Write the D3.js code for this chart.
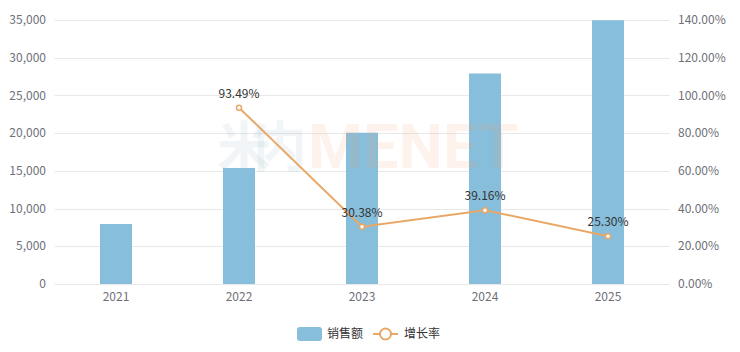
<!DOCTYPE html>
<html><head><meta charset="utf-8">
<script src="https://cdn.jsdelivr.net/npm/d3@7/dist/d3.min.js"></script>
<style>body{margin:0;background:#fff;}svg{display:block;font-family:"Microsoft YaHei","Noto Sans CJK SC",sans-serif;}</style>
</head><body>
<svg id="c" width="740" height="352"></svg>
<script>
const categories = ["2021","2022","2023","2024","2025"];
const sales = [7950, 15382, 20055, 27909, 34970];
const growth = [null, 93.49, 30.38, 39.16, 25.30];
const leftTicks = [0,5000,10000,15000,20000,25000,30000,35000];
const rightTicks = [0,20,40,60,80,100,120,140];
const legendNames = ["销售额","增长率"];

const svg = d3.select("#c");
const L = 54.5, R = 669.5, T = 20, B = 284;
const x = d3.scaleBand().domain(categories).range([L, R]);
const yL = d3.scaleLinear().domain([0, 35000]).range([B, T]);
const yR = d3.scaleLinear().domain([0, 140]).range([B, T]);

// grid
svg.append("g").selectAll("line").data(leftTicks).join("line")
  .attr("x1", L).attr("x2", R)
  .attr("y1", d => Math.round(yL(d)) + 0.5).attr("y2", d => Math.round(yL(d)) + 0.5)
  .attr("stroke", "#e8e8e8").attr("stroke-width", 1);

// left axis labels
svg.append("g").selectAll("text").data(leftTicks).join("text")
  .attr("x", 46).attr("y", d => yL(d)).attr("dy", "0.35em")
  .attr("text-anchor", "end").attr("font-size", 12).attr("fill", "#6e7079")
  .text(d => d3.format(",")(d));

// right axis labels
svg.append("g").selectAll("text").data(rightTicks).join("text")
  .attr("x", 678).attr("y", d => yR(d)).attr("dy", "0.35em")
  .attr("text-anchor", "start").attr("font-size", 12).attr("fill", "#6e7079")
  .text(d => d.toFixed(2) + "%");

// x labels
svg.append("g").selectAll("text").data(categories).join("text")
  .attr("x", d => x(d) + x.bandwidth()/2).attr("y", 297).attr("dy", "0.35em")
  .attr("text-anchor", "middle").attr("font-size", 12).attr("fill", "#6e7079")
  .text(d => d);

// bars
const bw = 32;
svg.append("g").selectAll("rect").data(sales).join("rect")
  .attr("x", (d,i) => x(categories[i]) + x.bandwidth()/2 - bw/2)
  .attr("width", bw)
  .attr("y", d => yL(d)).attr("height", d => B - yL(d))
  .attr("fill", "#86bedb");

// watermark
const wm = svg.append("g");
wm.append("text").attr("x", 217).attr("y", 167).attr("font-size", 54).attr("font-weight", "bold")
  .attr("fill", "#a9bfcb").attr("fill-opacity", 0.16).attr("font-family","Noto Sans CJK SC").attr("textLength", 90).text("米内");
wm.append("text").attr("x", 308).attr("y", 168).attr("font-size", 62).attr("font-weight", "bold")
  .attr("fill", "#f4a46a").attr("fill-opacity", 0.13).attr("font-family","Roboto, sans-serif").attr("textLength", 210).attr("lengthAdjust","spacingAndGlyphs").text("MENET");

// line
const pts = growth.map((g,i) => ({g, c: categories[i]})).filter(d => d.g !== null);
const line = d3.line().x(d => x(d.c) + x.bandwidth()/2).y(d => yR(d.g));
svg.append("path").datum(pts).attr("d", line)
  .attr("fill", "none").attr("stroke", "#e9a867").attr("stroke-width", 2);
svg.append("g").selectAll("circle").data(pts).join("circle")
  .attr("cx", d => x(d.c) + x.bandwidth()/2).attr("cy", d => yR(d.g)).attr("r", 2.5)
  .attr("fill", "#fff").attr("stroke", "#e9a867").attr("stroke-width", 1.5);
svg.append("g").selectAll("text").data(pts).join("text")
  .attr("x", d => x(d.c) + x.bandwidth()/2).attr("y", d => yR(d.g) - 10)
  .attr("text-anchor", "middle").attr("font-size", 12).attr("fill", "#333")
  .text(d => d.g.toFixed(2) + "%");

// legend
const lg = svg.append("g");
lg.append("rect").attr("x", 297).attr("y", 327).attr("width", 25).attr("height", 14).attr("rx", 3).attr("fill", "#86bedb");
lg.append("text").attr("x", 327).attr("y", 334).attr("dy", "0.35em").attr("font-size", 12).attr("fill", "#333").text(legendNames[0]);
lg.append("line").attr("x1", 373).attr("x2", 398).attr("y1", 334).attr("y2", 334).attr("stroke", "#e9a867").attr("stroke-width", 2);
lg.append("circle").attr("cx", 385.5).attr("cy", 334).attr("r", 5.5).attr("fill", "#fff").attr("stroke", "#e9a867").attr("stroke-width", 2);
lg.append("text").attr("x", 404).attr("y", 334).attr("dy", "0.35em").attr("font-size", 12).attr("fill", "#333").text(legendNames[1]);
</script>
</body></html>
